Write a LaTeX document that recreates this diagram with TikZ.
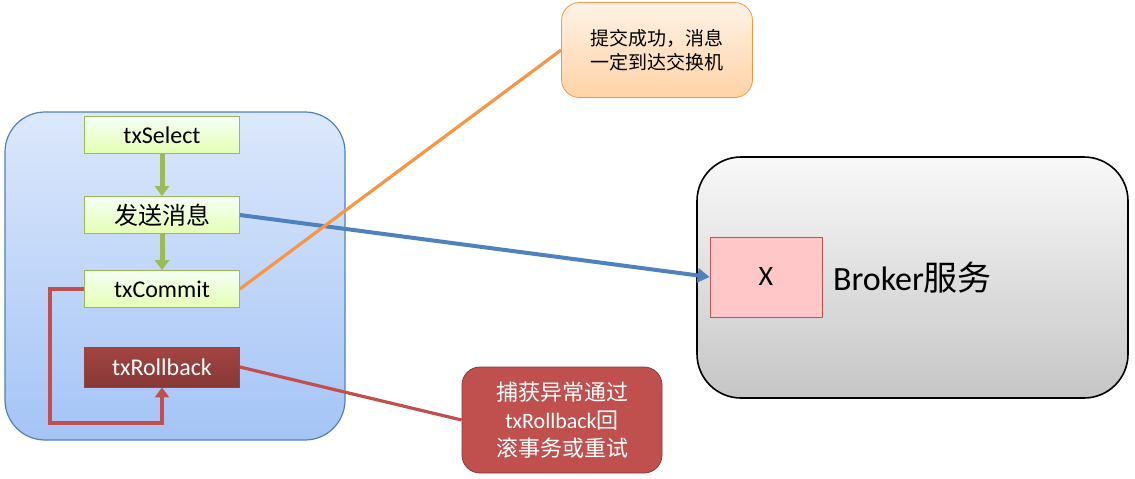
\documentclass[tikz,border=0pt]{standalone}
\usepackage{fontspec}
\setmainfont{Carlito}
\newfontfamily\cjk{Noto Sans CJK SC}
\usetikzlibrary{arrows.meta,calc}
\definecolor{txgreen}{HTML}{9BBB59}
\definecolor{txred}{HTML}{C0504D}
\definecolor{txblue}{HTML}{4F81BD}
\definecolor{txorange}{HTML}{F79646}
\definecolor{paneltop}{HTML}{DCE8FB}
\definecolor{panelbot}{HTML}{A4C4F6}
\begin{document}
\begin{tikzpicture}[x=0.5pt,y=-0.5pt,
  stepbox/.style={draw=txgreen,top color=green!4!white,bottom color=green!35!yellow!30,minimum width=77.5pt,minimum height=18.5pt,inner sep=0,font=\fontsize{12}{14}\selectfont},
  callout/.style={rounded corners=9pt,align=center,inner sep=0,font=\fontsize{9.5}{12}\selectfont},
  flow/.style={txgreen,line width=2.5pt,-{Triangle[length=5pt,width=7pt]}}]
\useasboundingbox (0,0) rectangle (1135,478);
% panels
\draw[draw=txblue,top color=paneltop,bottom color=panelbot,rounded corners=20pt,line width=0.6pt]
  (5,112) rectangle (345,440);
\draw[black,line width=0.8pt,top color=gray!5,bottom color=gray!45,rounded corners=22pt]
  (697,157) rectangle (1128,398);
% steps
\node[stepbox] (sel) at (162,135) {txSelect};
\node[stepbox] (send) at (162,215) {\cjk 发送消息};
\node[stepbox] (com) at (162,289) {txCommit};
\node[stepbox,draw=txred!80!black,top color=txred!85!black,bottom color=txred!70!black,text=white,minimum height=20pt] (rb) at (162,367) {txRollback};
\draw[flow] (sel) -- (send);
\draw[flow] (send) -- (com);
\draw[txred,line width=2.2pt,-{Triangle[length=5pt,width=7pt]}]
  (com.west) -- (50,289) -- (50,423) -- (162,423) -- (rb.south);
% broker
\node[draw=txred,fill=red!22,minimum width=56pt,minimum height=40pt,inner sep=0,font=\fontsize{14}{16}\selectfont] (x) at (766,277) {X};
\node[anchor=west,font=\fontsize{17}{20}\selectfont] (brk) at (826,278) {Broker{\cjk 服务}};
\draw[txblue,line width=2pt,-{Triangle[length=6pt,width=7pt]}] (send.east) -- (x.west);
% callouts
\node[callout,draw=txorange,top color=orange!10,bottom color=orange!35,minimum width=95.5pt,minimum height=47.5pt] (ok) at (657,50) {\cjk 提交成功，消息\\\cjk 一定到达交换机};
\draw[txorange,line width=1.6pt] (com.east) -- (ok.west);
\node[callout,draw=txred!70!black,fill=txred,text=white,minimum width=100pt,minimum height=53pt,font=\fontsize{11}{14}\selectfont] (err) at (562,420) {\cjk 捕获异常通过\\txRollback{\cjk 回}\\\cjk 滚事务或重试};
\draw[txred,line width=1.6pt] (rb.east) -- (err.west);
\end{tikzpicture}
\end{document}
